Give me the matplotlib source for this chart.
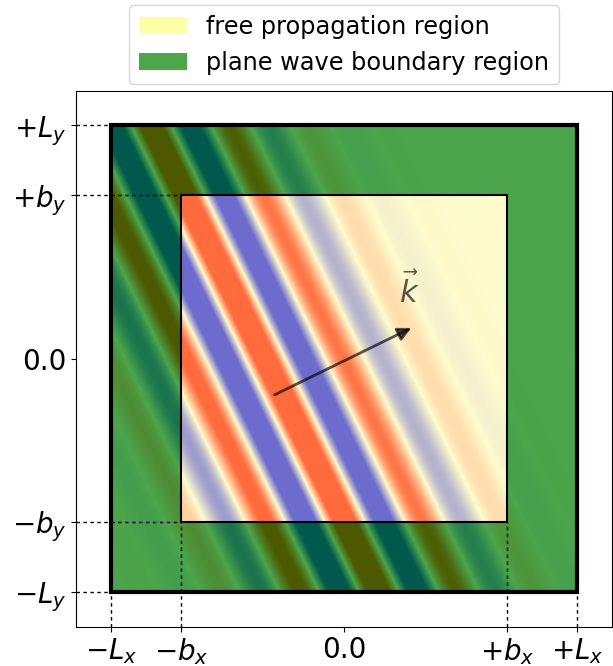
import numpy as np
import matplotlib
matplotlib.use("Agg")
import matplotlib.pyplot as plt
from matplotlib.patches import Rectangle, PathPatch, Patch
from matplotlib.path import Path

# --- Geometry of the simulation box ---
Lx, Ly = 1.0, 1.0          # outer (plane wave boundary) half-widths
bx, by = 0.7, 0.7          # inner (free propagation) half-widths
lim = 1.15

# --- Wave packet parameters ---
k_start = [-0.298, -0.156]   # arrow tail / packet centre
k_end = [0.289, 0.131]       # arrow head
k_mag = 20.4
sigma = 0.32
amp = 1.6
s_shift = 0.0
phase_s = 0.03

xtick_pos = [-Lx, -bx, 0.0, bx, Lx]
xtick_lab = [r"$-L_x$", r"$-b_x$", "0.0", r"$+b_x$", r"$+L_x$"]
ytick_pos = [-Ly, -by, 0.0, by, Ly]
ytick_lab = [r"$-L_y$", r"$-b_y$", "0.0", r"$+b_y$", r"$+L_y$"]

# --- Field on the grid ---
n = 500
x = np.linspace(-Lx, Lx, n)
y = np.linspace(-Ly, Ly, n)
X, Y = np.meshgrid(x, y)
kd = np.array(k_end) - np.array(k_start)
kd = kd / np.hypot(*kd)
s = (X - k_start[0]) * kd[0] + (Y - k_start[1]) * kd[1]
field = amp * np.exp(-(s - s_shift) ** 2 / (2 * sigma ** 2)) * np.cos(k_mag * (s - phase_s))

fig = plt.figure(figsize=(6.13, 6.66), dpi=100)
ax = fig.add_axes([76 / 613, 39 / 666, 536 / 613, 537 / 666])

ax.imshow(field, cmap="bwr", vmin=-1, vmax=1, origin="lower",
          extent=[-Lx, Lx, -Ly, Ly], interpolation="bilinear", zorder=1)

# green frame between outer and inner box
outer = [(-Lx, -Ly), (Lx, -Ly), (Lx, Ly), (-Lx, Ly), (-Lx, -Ly)]
inner = [(-bx, -by), (-bx, by), (bx, by), (bx, -by), (-bx, -by)]
codes = [Path.MOVETO] + [Path.LINETO] * 3 + [Path.CLOSEPOLY]
frame = Path(outer + inner, codes + codes)
ax.add_patch(PathPatch(frame, facecolor="green", edgecolor="none", alpha=0.7, zorder=2))

# yellow free propagation region
ax.add_patch(Rectangle((-bx, -by), 2 * bx, 2 * by, facecolor=(1.0, 0.976, 0.55),
                       edgecolor="none", alpha=0.43, zorder=3))

# box outlines
ax.add_patch(Rectangle((-Lx, -Ly), 2 * Lx, 2 * Ly, fill=False, edgecolor="k", lw=3, zorder=5))
ax.add_patch(Rectangle((-bx, -by), 2 * bx, 2 * by, fill=False, edgecolor="k", lw=1.5, zorder=5))

# dashed guides to the ticks
dash = dict(color="k", lw=1, linestyle=(0, (2.5, 2.5)), zorder=4, clip_on=False)
for yy, xx in [(Ly, -Lx), (-Ly, -Lx), (by, -bx), (-by, -bx)]:
    ax.plot([-lim, xx], [yy, yy], **dash)
for xx, yy in [(-Lx, -Ly), (Lx, -Ly), (-bx, -by), (bx, -by)]:
    ax.plot([xx, xx], [-lim, yy], **dash)

# wave vector
ax.annotate("", xy=k_end, xytext=k_start,
            arrowprops=dict(arrowstyle="-|>", color="k", lw=2, alpha=0.65,
                            mutation_scale=20, shrinkA=0, shrinkB=0), zorder=6)
ax.text(k_end[0] - 0.01, k_end[1] + 0.08, r"$\vec{k}$", fontsize=22, color="k",
        alpha=0.65, ha="center", va="bottom", zorder=6)

ax.set_xlim(-lim, lim)
ax.set_ylim(-lim, lim)
ax.set_xticks(xtick_pos)
ax.set_xticklabels(xtick_lab, fontsize=20)
ax.set_yticks(ytick_pos)
ax.set_yticklabels(ytick_lab, fontsize=20)

handles = [
    Patch(facecolor="yellow", alpha=0.35, label="free propagation region"),
    Patch(facecolor="green", alpha=0.7, label="plane wave boundary region"),
]
ax.legend(handles=handles, loc="lower center", bbox_to_anchor=(0.5, 1.0),
          fontsize=17.3, borderaxespad=0.25)

fig.savefig("out.png", dpi=100)
